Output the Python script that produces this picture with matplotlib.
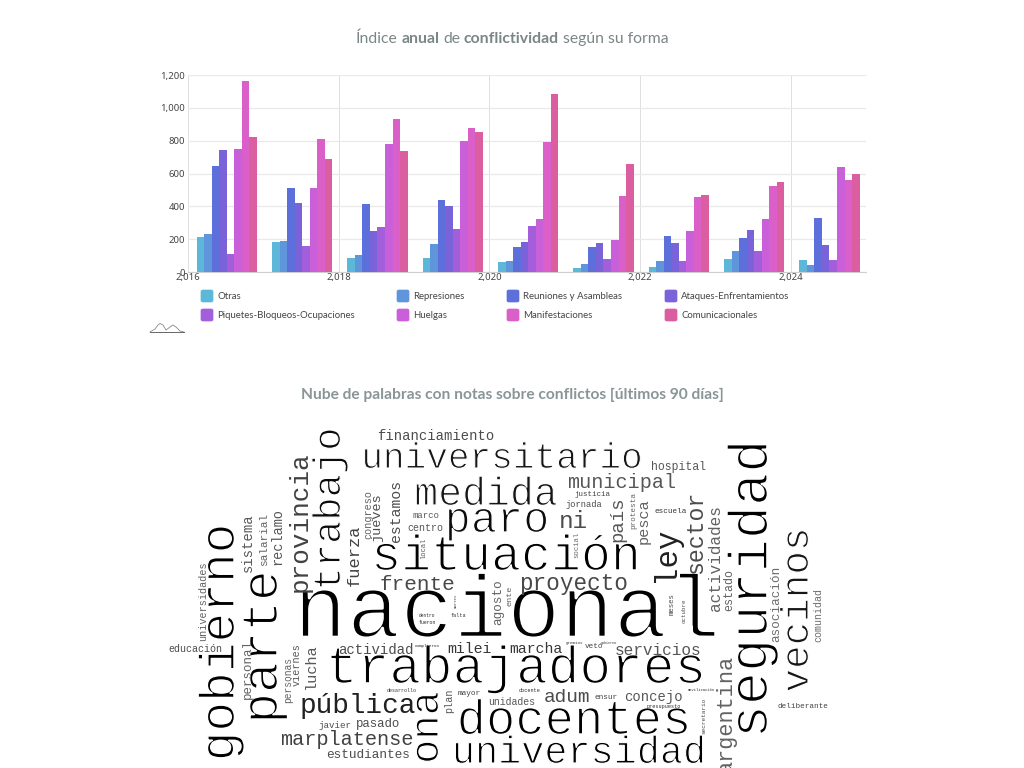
import matplotlib
matplotlib.use("Agg")
import matplotlib.pyplot as plt
from matplotlib.patches import FancyBboxPatch
from matplotlib.lines import Line2D
from matplotlib.patheffects import AbstractPathEffect, Normal

W, H = 1024, 768
DPI = 100

# ---- data ----
years = [2016, 2017, 2018, 2019, 2020, 2021, 2022, 2023, 2024]
otras = [212, 183, 85, 85, 60, 22, 28, 78, 72]
represiones = [233, 190, 105, 170, 68, 48, 68, 125, 45]
reuniones = [645, 510, 413, 438, 155, 155, 222, 205, 328]
ataques = [745, 420, 248, 405, 185, 175, 178, 255, 165]
piquetes = [112, 160, 275, 262, 280, 82, 65, 125, 72]
huelgas = [752, 513, 778, 800, 325, 195, 252, 320, 642]
manifestaciones = [1162, 810, 932, 878, 790, 460, 455, 525, 562]
comunicacionales = [825, 688, 738, 850, 1085, 655, 472, 550, 600]
series_names = ["Otras", "Represiones", "Reuniones y Asambleas", "Ataques-Enfrentamientos",
                "Piquetes-Bloqueos-Ocupaciones", "Huelgas", "Manifestaciones", "Comunicacionales"]
series_values = [otras, represiones, reuniones, ataques, piquetes, huelgas, manifestaciones, comunicacionales]
y_ticks = [0, 200, 400, 600, 800, 1000, 1200]
x_ticks = [2016, 2018, 2020, 2022, 2024]

horizontal_words = ["nacional", "trabajadores", "universitario", "medida", "paro", "situación", "frente",
    "proyecto", "ni", "municipal", "hospital", "financiamiento", "docentes", "universidad", "pública",
    "marplatense", "estudiantes", "pasado", "javier", "actividad", "milei", "marcha", "servicios", "adum",
    "concejo", "unidades", "ensur", "mayor", "educación", "deliberante", "marco", "centro", "justicia",
    "jornada", "escuela", "vetó", "presupuesto", "docente", "desarrollo", "movilización", "cumplieron",
    "dentro", "fueron", "falta", "gremios", "gobierno"]
vertical_words = ["gobierno", "parte", "trabajo", "provincia", "fuerza", "congreso", "jueves", "estamos",
    "local", "sistema", "salarial", "reclamo", "universidades", "personal", "personas", "viernes", "lucha",
    "plan", "ona", "argentina", "seguridad", "vecinos", "ley", "sector", "actividades", "estado",
    "asociación", "comunidad", "país", "pesca", "protesta", "social", "agosto", "ente", "meses", "octubre",
    "secretario", "martes"]

# ---- layout / style ----
colors = ["#5DB7D9", "#5F95DB", "#5C6FDB", "#7A62D9", "#A35FDB", "#C95FD9", "#DB5FC8", "#DB5FA0"]
# x start, baseline y, length px, gray
h_layout = [(287,637,440,0),(320,683,392,0),(357,468,290,.1),(412,505,148,.1),(443,532,108,.05),
    (367,570,278,0),(378,590,78,.33),(517,590,112,.33),(558,528,30,.35),(565,488,112,.4),(650,470,57,.4),
    (375,440,120,.35),(453,734,242,0),(448,763,262,0),(298,713,120,.15),(278,745,138,.3),(325,758,87,.35),
    (355,727,46,.35),(318,728,34,.35),(337,654,78,.35),(447,653,46,.25),(508,653,55,.25),(613,655,90,.4),
    (543,702,48,.35),(623,701,60,.4),(487,705,49,.4),(594,699,24,.3),(457,695,24,.3),(168,652,56,.35),
    (777,708,52,.3),(412,518,28,.4),(407,531,37,.4),(574,496,37,.3),(565,507,38,.35),(654,513,33,.25),
    (584,648,19,.3),(646,708,35,.2),(518,692,22,.2),(386,692,31,.25),(687,691,28,.2),(414,647,26,.2),
    (418,617,17,.2),(418,624,18,.2),(450,617,16,.25),(565,644,18,.25),(600,644,17,.25)]
# baseline x, y start, length px, gray
v_layout = [(234,765,245,0),(277,726,158,0),(340,593,168,.05),(307,594,145,.3),(359,587,63,.3),
    (371,540,50,.45),(380,543,50,.35),(400,543,64,.35),(425,559,22,.4),(252,573,60,.4),(267,567,55,.45),
    (281,566,59,.4),(206,642,82,.45),(251,700,62,.45),(291,704,48,.45),(300,687,44,.4),(315,691,47,.4),
    (452,713,25,.4),(438,765,75,0),(732,775,122,.45),(767,743,308,0),(808,695,170,.1),(674,583,57,.15),
    (702,575,86,.35),(720,613,110,.45),(732,612,43,.45),(779,643,78,.5),(821,643,56,.5),(622,543,47,.4),
    (648,545,47,.45),(635,530,38,.45),(578,558,27,.5),(501,626,47,.45),(512,606,21,.45),(674,615,23,.35),
    (686,623,25,.35),(705,735,38,.35),(457,608,15,.3)]

fig = plt.figure(figsize=(W/DPI, H/DPI), dpi=DPI, facecolor="white")
px2pt = 72 / DPI

def fx(x): return x / W
def fy(y): return 1 - y / H

# ---- titles ----
TITLE_FONT = ["Lato", "DejaVu Sans"]
def rich_title(parts, cx, y, size, color):
    r = fig.canvas.get_renderer()
    items = [fig.text(0, fy(y), t, fontsize=size, color=color, family=TITLE_FONT,
                      fontweight="bold" if b else "normal", va="baseline") for t, b in parts]
    widths = [i.get_window_extent(r).width for i in items]
    space = size / px2pt * 0.24
    total = sum(widths) + space * (len(items) - 1)
    x = cx - total / 2
    for it, w in zip(items, widths):
        it.set_x(fx(x))
        x += w + space

rich_title([("Índice", False), ("anual", True), ("de", False), ("conflictividad", True),
            ("según su forma", False)], 512, 43, 11.3, "#7b8687")
fig.text(fx(512.5), fy(399), "Nube de palabras con notas sobre conflictos [últimos 90 días]",
         ha="center", va="baseline", fontsize=11.2, fontweight="bold", color="#8a9596", family=TITLE_FONT)

# ---- bar chart ----
ax = fig.add_axes([fx(188), fy(272), (866-188)/W, (272-75)/H])
ax.set_xlim(2016, 2025)
ax.set_ylim(0, 1200)
bar_w = 0.1
for i, (name, vals, c) in enumerate(zip(series_names, series_values, colors)):
    ax.bar([yr + 0.115 + bar_w * (i + 0.5) for yr in years], vals, width=bar_w, color=c, zorder=3, label=name)
ax.set_yticks(y_ticks)
ax.set_yticklabels([f"{v:,}" for v in y_ticks])
ax.set_xticks(x_ticks)
ax.set_xticklabels([f"{v:,}" for v in x_ticks])
ax.tick_params(length=0, labelsize=6.9, labelcolor="#444444", pad=2, labelfontfamily="Noto Sans")
ax.tick_params(axis="x", pad=1)
ax.yaxis.grid(True, color="#e9e9e9", lw=0.9, zorder=0)
ax.xaxis.grid(True, color="#dfdfdf", lw=0.7, zorder=0)
for s in ["top", "left", "right"]:
    ax.spines[s].set_visible(False)
ax.spines["bottom"].set_color("#cfcfcf")

# ---- legend ----
col_x = [201, 397, 507, 665]
row_y = [296, 315]
for i, (name, c) in enumerate(zip(series_names, colors)):
    x = col_x[i % 4]
    y = row_y[i // 4]
    fig.add_artist(FancyBboxPatch((fx(x), fy(y+6)), 12/W, 12/H, boxstyle="round,pad=0,rounding_size=0.002",
                                  transform=fig.transFigure, fc=c, ec=c, lw=0.5))
    fig.text(fx(x+16), fy(y), name, fontsize=6.9, color="#444444", va="center", family="Lato")

# logo
fig.add_artist(Line2D([fx(v) for v in (150,155,158,160,163,166,170,173,176,180,184)],
                      [fy(v) for v in (332,329,325,323.5,325,330,327,325,327,331,332)],
                      color="#888888", lw=0.6))
fig.add_artist(Line2D([fx(150), fx(184)], [fy(332.5), fy(332.5)], color="#666666", lw=0.7))

# ---- word cloud ----
MONO = "Liberation Mono"
SCALE = 0.97       # the reference font is a lighter, lower Courier-like face

class ThinStroke(AbstractPathEffect):
    """Erase a thin outline from each glyph, to lighten the face."""
    def __init__(self, lw):
        super().__init__()
        self.lw = lw
    def draw_path(self, renderer, gc, tpath, affine, rgbFace=None):
        g = renderer.new_gc()
        g.copy_properties(gc)
        g.set_foreground("white")
        g.set_linewidth(self.lw)
        renderer.draw_path(g, tpath, affine, None)
        g.restore()

def word(w, x, y, L, g, rot):
    em = SCALE * L / (0.6 * len(w))
    inset = L * (1 - SCALE) / 2
    px = x + inset if rot == 0 else x
    py = y if rot == 0 else y - inset
    t = fig.text(fx(px), fy(py), w, fontsize=em * px2pt, family=MONO, color=str(round(g * 0.85, 3)), ha="left",
                 va="baseline", rotation=rot, rotation_mode="anchor")
    if em >= 32:
        t.set_path_effects([Normal(), ThinStroke(em * px2pt * 0.03)])

for w, (x, y, L, g) in zip(horizontal_words, h_layout):
    word(w, x, y, L, g, 0)
for w, (x, y, L, g) in zip(vertical_words, v_layout):
    word(w, x, y, L, g, 90)

fig.savefig("out.png", dpi=DPI, facecolor="white")
